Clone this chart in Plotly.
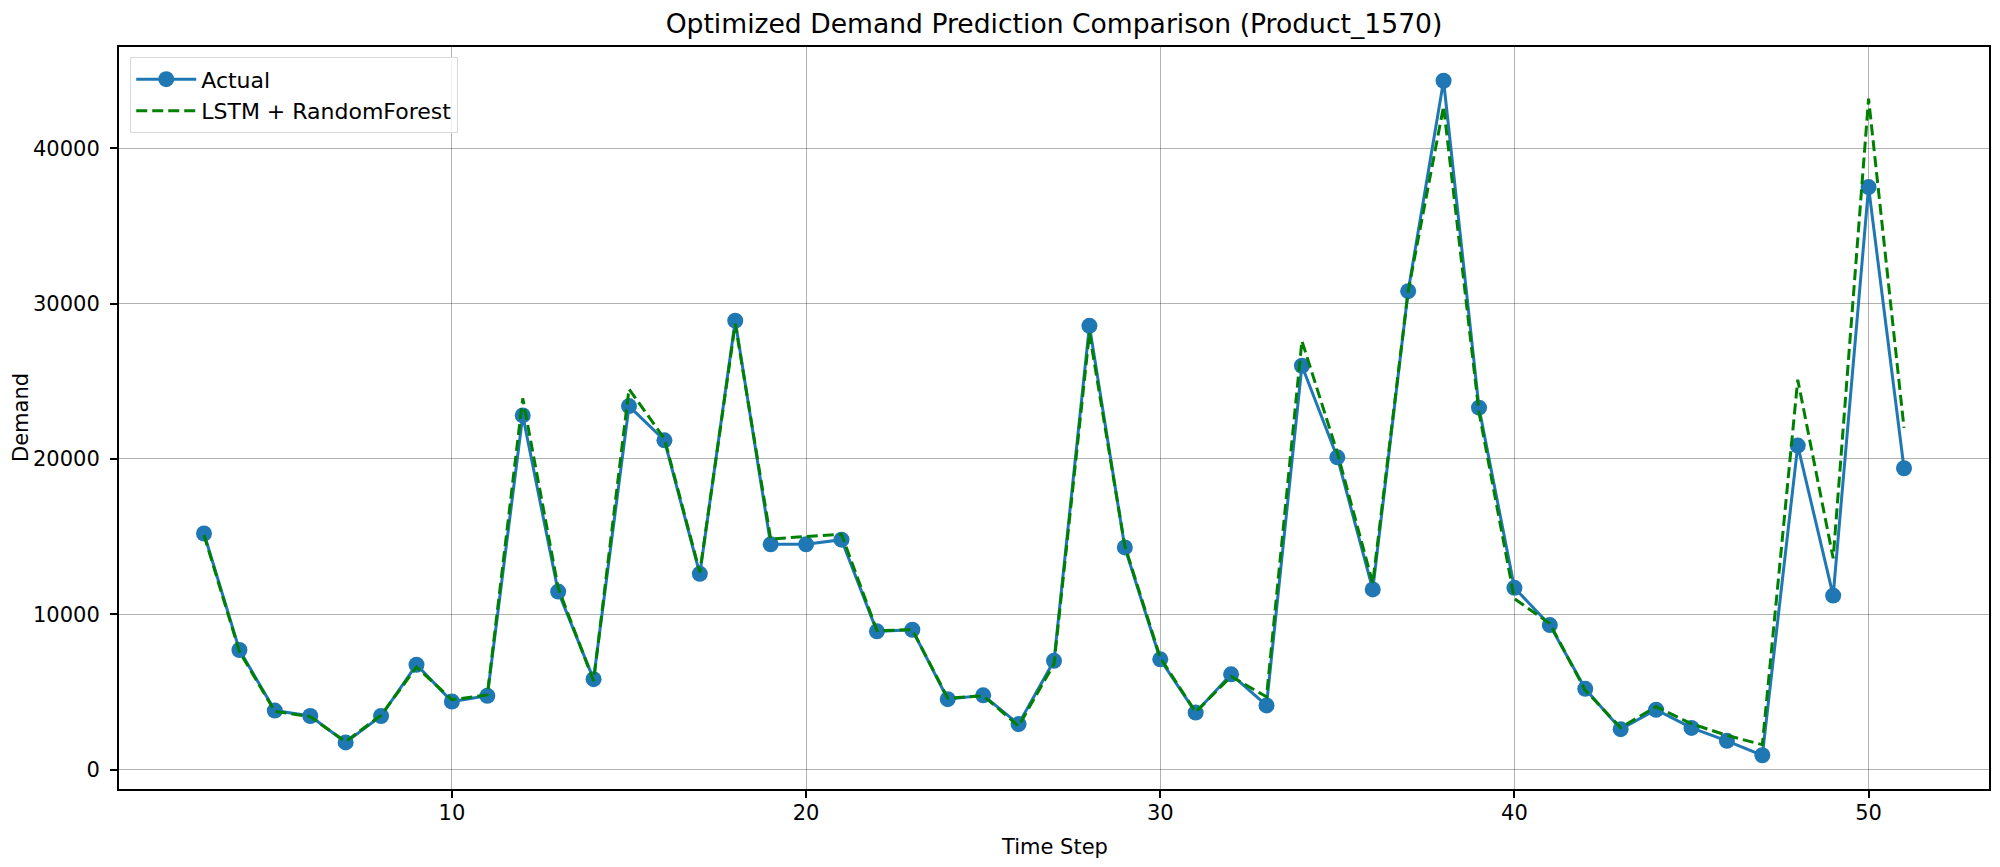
import plotly.graph_objects as go

time_steps = list(range(3, 52))
actual = [15200, 7700, 3800, 3450, 1750, 3450, 6750, 4380, 4750, 22800,
          11460, 5820, 23400, 21200, 12600, 28900, 14500, 14500, 14800, 8900,
          9000, 4530, 4780, 2930, 7000, 28570, 14300, 7100, 3670, 6130,
          4130, 26000, 20100, 11600, 30800, 44350, 23300, 11700, 9300, 5200,
          2600, 3850, 2680, 1850, 920, 20860, 11200, 37500, 19400]
predicted = [15100, 7600, 3750, 3400, 1800, 3500, 6600, 4500, 4800, 23900,
             11700, 5700, 24500, 21300, 12700, 28700, 14850, 15000, 15150, 8950,
             9000, 4600, 4750, 2800, 6800, 28100, 14400, 7200, 3700, 6000,
             4680, 27600, 20400, 12000, 30800, 42700, 23000, 11000, 9400, 5100,
             2700, 4050, 2950, 2200, 1600, 25100, 13600, 43200, 22000]
y_ticks = [0, 10000, 20000, 30000, 40000]
y_tick_labels = ["0", "10000", "20000", "30000", "40000"]
x_ticks = [10, 20, 30, 40, 50]

FONT = "DejaVu Sans"
W, H = 2000, 867
OFF = 8  # page body margin offset
ML, MR, MT, MB = 119 - OFF, 11 + OFF, 47 - OFF, 78 + OFF
PH = H - MT - MB
PW = W - ML - MR

fig = go.Figure()
fig.add_trace(go.Scatter(
    x=time_steps, y=actual, name="Actual", mode="lines+markers",
    line=dict(color="#1f77b4", width=3),
    marker=dict(color="#1f77b4", size=16),
))
fig.add_trace(go.Scatter(
    x=time_steps, y=predicted, name="LSTM + RandomForest", mode="lines",
    line=dict(color="#008000", width=3, dash="11px,5px"),
))

all_y = actual + predicted
ymin, ymax = min(all_y), max(all_y)
ypad = 0.05 * (ymax - ymin)
xpad = 0.05 * (max(time_steps) - min(time_steps))

axis_common = dict(
    showline=True, linecolor="black", linewidth=2, mirror=True,
    ticks="outside", ticklen=7, tickwidth=1.5, tickcolor="black",
    showgrid=True, gridcolor="rgba(0,0,0,0.3)", gridwidth=1,
    zeroline=False, automargin=False,
    tickfont=dict(family=FONT, size=21, color="black"),
)

fig.update_layout(
    width=W, height=H,
    margin=dict(l=ML, r=MR, t=MT, b=MB),
    paper_bgcolor="white", plot_bgcolor="white",
    font=dict(family=FONT, color="black"),
    title=dict(text="Optimized Demand Prediction Comparison (Product_1570)",
               x=0.5, xref="paper", y=1 - 16 / H, yref="container",
               xanchor="center", yanchor="middle",
               font=dict(family=FONT, size=26.6, color="black")),
    xaxis=dict(range=[min(time_steps) - xpad, max(time_steps) + xpad],
               tickvals=x_ticks, ticklabelstandoff=-3, **axis_common),
    yaxis=dict(range=[ymin - ypad, ymax + ypad],
               tickvals=y_ticks, ticktext=y_tick_labels,
               ticklabelstandoff=6, **axis_common),
    legend=dict(x=0.006, y=0.986, xanchor="left", yanchor="top",
                bgcolor="rgba(255,255,255,0.8)", bordercolor="#d9d9d9",
                borderwidth=1, itemwidth=60,
                font=dict(family=FONT, size=22, color="black")),
    showlegend=True,
    annotations=[
        dict(text="Time Step", xref="paper", yref="paper",
             x=0.5, y=-((847 - OFF) - (MT + PH)) / PH,
             xanchor="center", yanchor="middle",
             showarrow=False, font=dict(family=FONT, size=21, color="black")),
        dict(text="Demand", xref="paper", yref="paper",
             x=(13 - ML) / PW, y=0.5, xanchor="center", yanchor="middle",
             textangle=-90, showarrow=False,
             font=dict(family=FONT, size=21, color="black")),
    ],
)

fig.write_html("out.html")
